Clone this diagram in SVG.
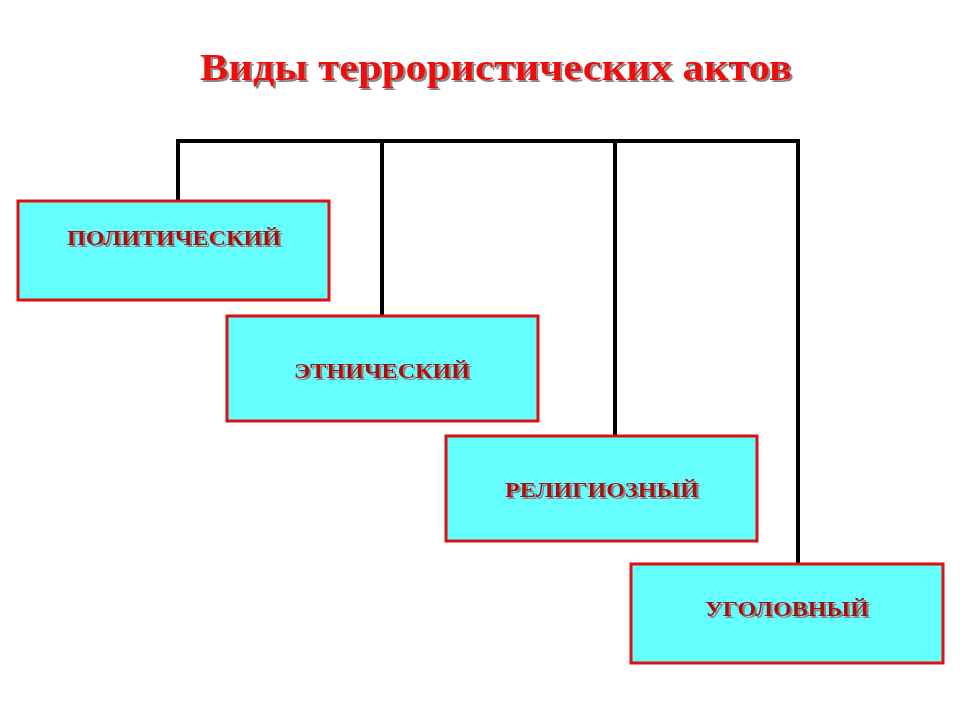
<svg xmlns="http://www.w3.org/2000/svg" width="960" height="720" viewBox="0 0 960 720">
<defs>
<filter id="sh" x="-5%" y="-20%" width="110%" height="150%"><feDropShadow dx="2" dy="2" stdDeviation="0.5" flood-color="#888" flood-opacity="1"/></filter>
</defs>
<style>
.box{fill:#66ffff;stroke:#dd1111;stroke-width:3}
.lbl{font-family:"Liberation Serif",serif;font-weight:bold;font-size:20px;fill:#aa1111;text-anchor:middle;filter:url(#sh)}
.ttl{font-family:"Liberation Serif",serif;font-weight:bold;font-size:38px;fill:#ee1111;text-anchor:middle;filter:url(#sh)}
</style>
<rect width="960" height="720" fill="#fff"/>
<text class="ttl" x="496" y="80" textLength="592" lengthAdjust="spacingAndGlyphs">Виды террористических актов</text>
<g id="connectors" fill="none" stroke="#000" stroke-width="4">
<path d="M178,201 V141 H798 V564"/>
<path d="M382,141 V316"/>
<path d="M615,141 V436"/>
</g>
<g id="n1"><rect class="box" x="18" y="201" width="311" height="99"/><text class="lbl" x="174" y="245" textLength="214" lengthAdjust="spacingAndGlyphs">ПОЛИТИЧЕСКИЙ</text></g>
<g id="n2"><rect class="box" x="227" y="316" width="311" height="105"/><text class="lbl" x="382" y="378" textLength="176" lengthAdjust="spacingAndGlyphs">ЭТНИЧЕСКИЙ</text></g>
<g id="n3"><rect class="box" x="446" y="436" width="311" height="105"/><text class="lbl" x="602" y="497" textLength="194" lengthAdjust="spacingAndGlyphs">РЕЛИГИОЗНЫЙ</text></g>
<g id="n4"><rect class="box" x="631" y="564" width="312" height="99"/><text class="lbl" x="787" y="616" textLength="164" lengthAdjust="spacingAndGlyphs">УГОЛОВНЫЙ</text></g>
</svg>
